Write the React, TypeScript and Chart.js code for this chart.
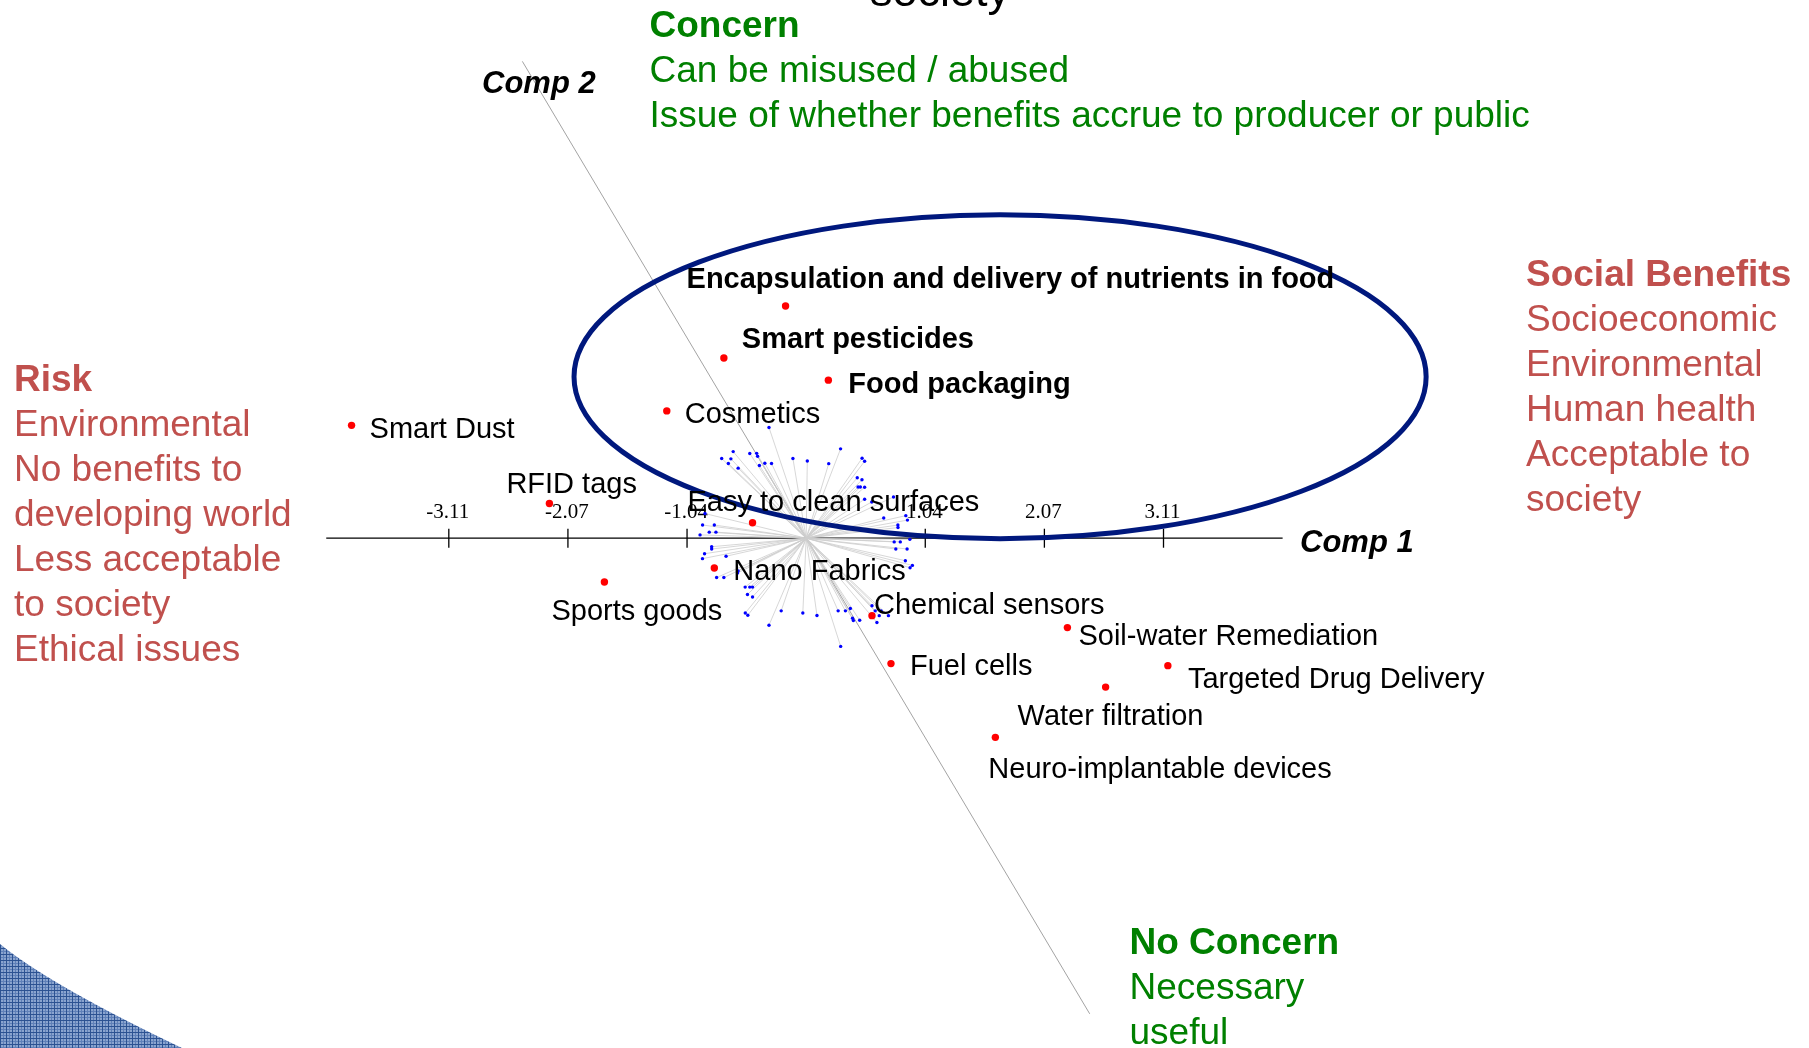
import React, { useEffect, useRef } from "react";
import { Chart, registerables } from "chart.js";

Chart.register(...registerables);

// ---- Technologies (red points): component scores ----
const techNames = [
  "Encapsulation and delivery of nutrients in food",
  "Smart pesticides",
  "Food packaging",
  "Cosmetics",
  "Smart Dust",
  "RFID tags",
  "Easy to clean surfaces",
  "Nano Fabrics",
  "Sports goods",
  "Chemical sensors",
  "Soil-water Remediation",
  "Fuel cells",
  "Targeted Drug Delivery",
  "Water filtration",
  "Neuro-implantable devices",
];
const techComp1 = [-0.179, -0.715, 0.193, -1.211, -3.95, -2.231, -0.466, -0.798, -1.753, 0.572, 2.27, 0.737, 3.143, 2.602, 1.644];
const techComp2 = [2.024, 1.571, 1.378, 1.11, 0.984, 0.303, 0.135, -0.26, -0.381, -0.675, -0.779, -1.093, -1.111, -1.298, -1.736];
const techHighlighted = [true, true, true, false, false, false, false, false, false, false, false, false, false, false, false];

// ---- Variables (blue points, loadings) ----
const varComp1 = [
  -0.323, -0.634, -0.734, -0.654, -0.676, -0.591, -0.49, -0.43, -0.422, -0.406, -0.359, -0.301, -0.115, 0.01, 0.196, 0.299,
  0.486, 0.508, 0.444, 0.485, 0.451, 0.471, 0.508, 0.508, 0.57,
  0.759, 0.674, 0.797, 0.798, 0.866, 0.88,
  0.901, 0.765, 0.818, 0.779, 0.877, 0.862, 0.923, 0.903,
  0.572, 0.6, 0.652, 0.635, 0.715, 0.615,
  0.384, 0.341, 0.278, 0.403, 0.41, 0.465, 0.3,
  0.094, -0.029, -0.217, -0.323,
  -0.529, -0.507, -0.53, -0.49, -0.466, -0.51, -0.466,
  -0.591, -0.596, -0.778, -0.715, -0.696,
  -0.821, -0.821, -0.883, -0.901,
  -0.9, -0.798, -0.842, -0.784, -0.922, -0.879,
];
const varComp2 = [
  0.965, 0.755, 0.695, 0.692, 0.651, 0.611, 0.738, 0.74, 0.715, 0.634, 0.653, 0.652, 0.695, 0.673, 0.65, 0.779,
  0.697, 0.671, 0.527, 0.51, 0.446, 0.446, 0.445, 0.34, 0.316,
  0.36, 0.176, 0.115, 0.093, 0.197, 0.158,
  -0.01, -0.032, -0.032, -0.094, -0.094, -0.196, -0.237, -0.257,
  -0.588, -0.633, -0.635, -0.675, -0.675, -0.735,
  -0.613, -0.633, -0.633, -0.698, -0.717, -0.715, -0.943,
  -0.673, -0.652, -0.633, -0.758,
  -0.652, -0.672, -0.426, -0.426, -0.426, -0.49, -0.512,
  -0.285, -0.303, -0.343, -0.343, -0.157,
  -0.074, -0.094, -0.135, -0.178,
  0.115, 0.115, 0.053, 0.053, 0.029, 0.215,
];

// ---- Axes ----
const comp1Ticks = [-3.105, -2.07, -1.035, 1.035, 2.07, 3.105];
const comp1TickLabels = ["-3.11", "-2.07", "-1.04", "1.04", "2.07", "3.11"];
const comp1Extent = [-4.17, 4.14];
const comp2AxisX = [-2.466, 2.464];
const comp2AxisY = [4.157, -4.146];

// ---- Highlighted cluster ellipse: centre x, centre y, radius x, radius y ----
const clusterEllipse = [1.685, 1.408, 3.702, 1.412];

// ---- Layout (pixels) ----
const W = 1809;
const H = 1048;
const X_RANGE = [-6.97, 8.679];
const Y_RANGE = [-4.409, 4.657];
const labelOffsets = [
  [-99, -18], [18, -10], [20, 13], [18, 12], [18, 12.5], [-43, -10], [-65, -12], [19, 12],
  [-53, 38], [2, -2], [11, 17], [19, 11], [20, 22], [-88, 38], [-7, 41],
];

const SANS = '"Liberation Sans", Arial, sans-serif';
const GREEN = "#008000";
const ROSE = "#C0504D";

function drawBlock(ctx: CanvasRenderingContext2D, lines: string[], x: number, y0: number, step: number, color: string, size: number) {
  ctx.fillStyle = color;
  ctx.textAlign = "left";
  ctx.textBaseline = "alphabetic";
  lines.forEach((t, i) => {
    ctx.font = (i === 0 ? "bold " : "") + size + "px " + SANS;
    ctx.fillText(t, x, y0 + i * step);
  });
}

function makePattern(ctx: CanvasRenderingContext2D) {
  const c = document.createElement("canvas");
  c.width = 6;
  c.height = 6;
  const p = c.getContext("2d")!;
  p.fillStyle = "#8aa4cf";
  p.fillRect(0, 0, 6, 6);
  p.fillStyle = "#5f80b8";
  p.fillRect(0, 3, 6, 1);
  p.fillRect(3, 0, 1, 6);
  p.fillStyle = "#2c5292";
  p.fillRect(0, 0, 6, 1);
  p.fillRect(0, 0, 1, 6);
  return ctx.createPattern(c, "repeat");
}

const overlayPlugin = {
  id: "overlay",
  beforeDatasetsDraw(chart: any) {
    const ctx: CanvasRenderingContext2D = chart.ctx;
    const xs = chart.scales.x;
    const ys = chart.scales.y;
    ctx.save();
    // bottom-left decoration
    const pat = makePattern(ctx);
    if (pat) ctx.fillStyle = pat;
    ctx.beginPath();
    ctx.moveTo(0, 944);
    ctx.quadraticCurveTo(50, 985, 182, H);
    ctx.lineTo(0, H);
    ctx.closePath();
    ctx.fill();

    // comp 1 ticks & labels
    const y0 = ys.getPixelForValue(0);
    ctx.strokeStyle = "#000";
    ctx.lineWidth = 1.3;
    ctx.fillStyle = "#000";
    ctx.font = '21px "Liberation Serif", "Times New Roman", serif';
    ctx.textAlign = "center";
    ctx.textBaseline = "alphabetic";
    comp1Ticks.forEach((t, i) => {
      const px = xs.getPixelForValue(t);
      ctx.beginPath();
      ctx.moveTo(px, y0 - 9.5);
      ctx.lineTo(px, y0 + 9.5);
      ctx.stroke();
      ctx.fillText(comp1TickLabels[i], px - 1, y0 - 20);
    });
    ctx.restore();
  },
  afterDatasetsDraw(chart: any) {
    const ctx: CanvasRenderingContext2D = chart.ctx;
    const xs = chart.scales.x;
    const ys = chart.scales.y;
    ctx.save();
    // ellipse
    const ux = xs.getPixelForValue(1) - xs.getPixelForValue(0);
    const uy = ys.getPixelForValue(0) - ys.getPixelForValue(1);
    ctx.strokeStyle = "#00187d";
    ctx.lineWidth = 5;
    ctx.beginPath();
    ctx.ellipse(
      xs.getPixelForValue(clusterEllipse[0]),
      ys.getPixelForValue(clusterEllipse[1]),
      clusterEllipse[2] * ux,
      clusterEllipse[3] * uy,
      0, 0, Math.PI * 2
    );
    ctx.stroke();

    // point labels
    ctx.fillStyle = "#000";
    ctx.textAlign = "left";
    ctx.textBaseline = "alphabetic";
    techNames.forEach((name, i) => {
      const px = xs.getPixelForValue(techComp1[i]);
      const py = ys.getPixelForValue(techComp2[i]);
      ctx.font = (techHighlighted[i] ? "bold " : "") + "29px " + SANS;
      ctx.fillText(name, px + labelOffsets[i][0], py + labelOffsets[i][1]);
    });

    // axis names
    ctx.font = "italic bold 31px " + SANS;
    ctx.fillText("Comp 1", 1300, 552);
    ctx.fillText("Comp 2", 482, 93);

    // title remnant
    ctx.font = "45px " + SANS;
    ctx.fillText("society", 870, 6);

    // annotation blocks
    drawBlock(ctx, ["Concern", "Can be misused / abused", "Issue of whether benefits accrue to producer or public"], 649.5, 37, 45, GREEN, 37);
    drawBlock(ctx, ["Risk", "Environmental", "No benefits to", "developing world", "Less acceptable", "to society", "Ethical issues"], 14, 391, 45, ROSE, 37);
    drawBlock(ctx, ["Social Benefits", "Socioeconomic", "Environmental", "Human health", "Acceptable to", "society"], 1526, 286, 45, ROSE, 37);
    drawBlock(ctx, ["No Concern", "Necessary", "useful"], 1129.5, 954, 45, GREEN, 37);
    ctx.restore();
  },
};

export default function App() {
  const ref = useRef<HTMLCanvasElement>(null);
  useEffect(() => {
    if (!ref.current) return;
    const techData = techComp1.map((x, i) => ({ x, y: techComp2[i] }));
    const varData = varComp1.map((x, i) => ({ x, y: varComp2[i] }));
    const vectorData: { x: number; y: number | null }[] = [];
    varComp1.forEach((x, i) => {
      vectorData.push({ x: 0, y: 0 });
      vectorData.push({ x, y: varComp2[i] });
      vectorData.push({ x: 0, y: null });
    });
    const chart = new Chart(ref.current, {
      type: "scatter",
      data: {
        datasets: [
          {
            label: "Technologies",
            data: techData,
            pointRadius: 3.7,
            pointBackgroundColor: "#ff0000",
            pointBorderWidth: 0,
            order: 0,
          },
          {
            label: "Variables",
            data: varData,
            pointRadius: 1.7,
            pointBackgroundColor: "#0000ff",
            pointBorderWidth: 0,
            order: 1,
          },
          {
            label: "Vectors",
            data: vectorData as any,
            showLine: true,
            spanGaps: false,
            pointRadius: 0,
            borderColor: "#cdcdcd",
            borderWidth: 0.8,
            order: 2,
          },
          {
            label: "Comp 1 axis",
            data: [{ x: comp1Extent[0], y: 0 }, { x: comp1Extent[1], y: 0 }],
            showLine: true,
            pointRadius: 0,
            borderColor: "#000",
            borderWidth: 1.3,
            order: 3,
          },
          {
            label: "Comp 2 axis",
            data: [{ x: comp2AxisX[0], y: comp2AxisY[0] }, { x: comp2AxisX[1], y: comp2AxisY[1] }],
            showLine: true,
            pointRadius: 0,
            borderColor: "#8c8c8c",
            borderWidth: 0.8,
            order: 3,
          },
        ],
      },
      options: {
        responsive: false,
        animation: false,
        devicePixelRatio: 1,
        events: [],
        layout: { padding: 0 },
        scales: {
          x: { type: "linear", min: X_RANGE[0], max: X_RANGE[1], display: false },
          y: { type: "linear", min: Y_RANGE[0], max: Y_RANGE[1], display: false },
        },
        plugins: { legend: { display: false }, tooltip: { enabled: false } },
      },
      plugins: [overlayPlugin],
    } as any);
    return () => chart.destroy();
  }, []);
  return (
    <div style={{ position: "fixed", left: 0, top: 0, width: W, height: H, background: "#fff" }}>
      <canvas ref={ref} width={W} height={H} style={{ display: "block", width: W, height: H }} />
    </div>
  );
}
